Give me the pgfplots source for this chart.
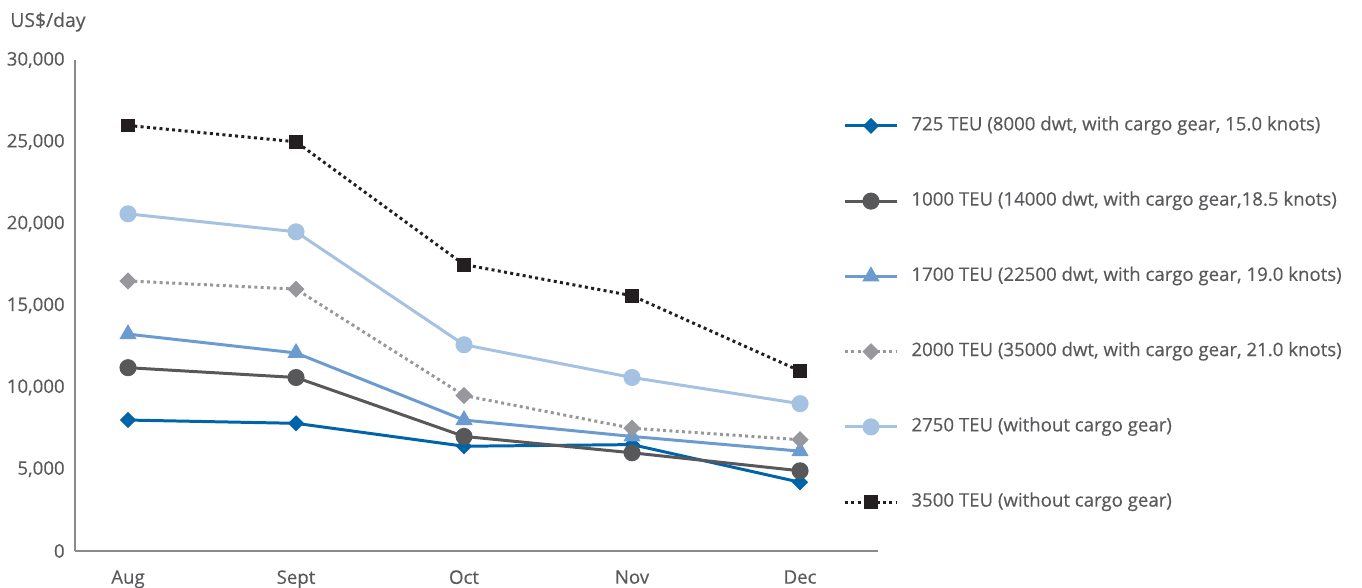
\documentclass[border=0pt]{standalone}
\usepackage{pgfplots}
\pgfplotsset{compat=1.18}
\usepackage{fontspec}
\setmainfont{Open Sans}[FakeBold=0.35]
\definecolor{txt}{HTML}{58595B}
\definecolor{axc}{HTML}{898A8E}
\definecolor{cA}{HTML}{0065A8}
\definecolor{cB}{HTML}{58585A}
\definecolor{cC}{HTML}{6B9BD0}
\definecolor{cD}{HTML}{97989C}
\definecolor{cE}{HTML}{A5C2E2}
\definecolor{cF}{HTML}{231F20}
\begin{document}
\begin{tikzpicture}[font=\fontsize{10.6}{12}\selectfont, text=txt]
\path[use as bounding box] (0,0) rectangle (27.24,11.76);
\node[anchor=base west, inner sep=0pt, font=\fontsize{11}{13}\selectfont] at (0.2,11.22) {US\$/day};
\begin{axis}[
  at={(1.5cm,0.74cm)}, anchor=south west,
  scale only axis, width=16.06cm, height=9.82cm,
  xmin=-0.3155, xmax=4.464, ymin=0, ymax=30000,
  scaled y ticks=false,
  axis x line*=bottom, axis y line*=left,
  axis line style={axc, line width=1.1pt, -},
  major tick length=0pt,
  xtick={0,1,2,3,4}, xticklabels={Aug,Sept,Oct,Nov,Dec},
  ytick={0,5000,10000,15000,20000,25000,30000},
  yticklabels={0,{5,000},{10,000},{15,000},{20,000},{25,000},{30,000}},
  yticklabel style={anchor=east, inner sep=0pt, xshift=-0.2cm, text=txt},
  xticklabel style={anchor=north, inner sep=0pt, yshift=-0.38cm, text=txt},
  clip=false,
  legend cell align=left,
  legend style={draw=none, fill=none, at={(0.950,0.891)}, anchor=north west,
    nodes={inner sep=0pt, text height=0.26cm, text depth=0.08cm, text=txt},
    row sep=1.165cm,
    /tikz/every odd column/.style={column sep=0.26cm}},
  legend image code/.code={\draw[mark repeat=2,mark phase=2,#1] plot coordinates {(0cm,0cm)(0.52cm,0cm)(1.04cm,0cm)};},
]
\addplot[cA, line width=1.7pt, mark=square*, mark size=2.4pt, mark options={rotate=45, solid}] coordinates {(0,8000)(1,7800)(2,6400)(3,6500)(4,4200)};
\addlegendentry{725 TEU (8000 dwt, with cargo gear, 15.0 knots)}
\addplot[cB, line width=1.7pt, mark=*, mark size=4pt, mark options={solid}] coordinates {(0,11200)(1,10600)(2,7000)(3,6000)(4,4900)};
\addlegendentry{1000 TEU (14000 dwt, with cargo gear,18.5 knots)}
\addplot[cC, line width=1.7pt, mark=triangle*, mark size=4pt, mark options={solid}] coordinates {(0,13250)(1,12100)(2,8000)(3,7000)(4,6100)};
\addlegendentry{1700 TEU (22500 dwt, with cargo gear, 19.0 knots)}
\addplot[cD, line width=1.7pt, dash pattern=on 1.7pt off 1.9pt, mark=square*, mark size=2.6pt, mark options={rotate=45, solid}] coordinates {(0,16500)(1,16000)(2,9500)(3,7500)(4,6800)};
\addlegendentry{2000 TEU (35000 dwt, with cargo gear, 21.0 knots)}
\addplot[cE, line width=1.7pt, mark=*, mark size=4pt, mark options={solid}] coordinates {(0,20600)(1,19500)(2,12600)(3,10600)(4,9000)};
\addlegendentry{2750 TEU (without cargo gear)}
\addplot[cF, line width=1.7pt, dash pattern=on 1.7pt off 1.9pt, mark=square*, mark size=3.1pt, mark options={solid}] coordinates {(0,26000)(1,25000)(2,17500)(3,15600)(4,11000)};
\addlegendentry{3500 TEU (without cargo gear)}
\end{axis}
\end{tikzpicture}
\end{document}
